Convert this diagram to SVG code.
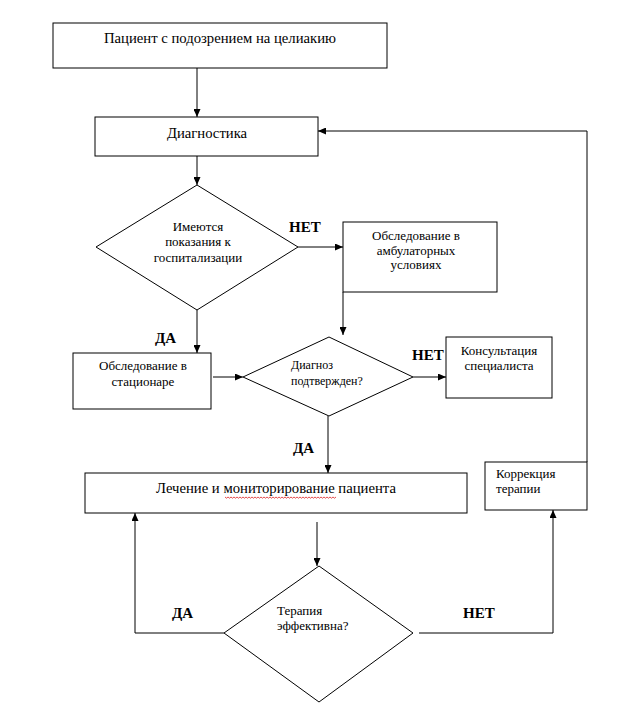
<svg xmlns="http://www.w3.org/2000/svg" width="623" height="719" viewBox="0 0 623 719">
<style>
.b{fill:#fff;stroke:#000;stroke-width:1}
.t{font-family:'Liberation Serif','DejaVu Serif',serif;font-size:13px;fill:#000}
.L{font-size:14.7px}
.c{text-anchor:middle}
.s{font-size:12px}
.lab{font-family:'Liberation Serif','DejaVu Serif',serif;font-size:15px;font-weight:bold;fill:#000}
.e{fill:none;stroke:#000;stroke-width:1}
</style>
<defs>
<marker id="a" markerUnits="userSpaceOnUse" markerWidth="9" markerHeight="7" refX="8" refY="3.5" orient="auto">
<path d="M0,0 L8,3.5 L0,7 z" fill="#000"/>
</marker>
</defs>
<rect width="623" height="719" fill="#fff"/>
<g id="connectors">
<path class="e" d="M197,68 V117" marker-end="url(#a)"/>
<path class="e" d="M197,156 V185" marker-end="url(#a)"/>
<path class="e" d="M298,247 H343" marker-end="url(#a)"/>
<path class="e" d="M197,310 V353" marker-end="url(#a)"/>
<path class="e" d="M343,292 V335" marker-end="url(#a)"/>
<path class="e" d="M213,377 H243" marker-end="url(#a)"/>
<path class="e" d="M413,377 H446" marker-end="url(#a)"/>
<path class="e" d="M328,416 V473" marker-end="url(#a)"/>
<path class="e" d="M317,522 V566" marker-end="url(#a)"/>
<path class="e" d="M224,633 H135 V513" marker-end="url(#a)"/>
<path class="e" d="M419,633 H553 V510" marker-end="url(#a)"/>
<path class="e" d="M587,462 V131 H318" marker-end="url(#a)"/>
</g>
<g id="patient">
<rect class="b" x="53" y="23" width="334" height="45"/>
<text class="t L c" x="220" y="43">Пациент с подозрением на целиакию</text>
</g>
<g id="diagnostics">
<rect class="b" x="95" y="117" width="223" height="39"/>
<text class="t L c" x="207" y="138">Диагностика</text>
</g>
<g id="hosp">
<polygon class="b" points="197,185 298,247 197,310 96,247"/>
<text class="t c" x="198" y="231">Имеются</text>
<text class="t c" x="198" y="246">показания к</text>
<text class="t c" x="198" y="262">госпитализации</text>
</g>
<g id="ambulatory">
<rect class="b" x="343" y="222" width="154" height="70"/>
<text class="t c" x="416" y="240">Обследование в</text>
<text class="t c" x="416" y="255">амбулаторных</text>
<text class="t c" x="416" y="269">условиях</text>
</g>
<g id="stationary">
<rect class="b" x="73" y="353" width="138" height="56"/>
<text class="t c" x="143" y="370">Обследование в</text>
<text class="t c" x="143" y="386">стационаре</text>
</g>
<g id="confirmed">
<polygon class="b" points="329,337 413,377 329,416 243,377"/>
<text class="t s" x="291" y="369">Диагноз</text>
<text class="t s" x="291" y="385">подтвержден?</text>
</g>
<g id="label-no1"><text class="lab" x="289" y="232">НЕТ</text></g>
<g id="label-yes1"><text class="lab" x="155" y="343">ДА</text></g>
<g id="label-no2"><text class="lab" x="412" y="360">НЕТ</text></g>
<g id="consult">
<rect class="b" x="446" y="337" width="106" height="61"/>
<text class="t c" x="499" y="355">Консультация</text>
<text class="t c" x="499" y="370">специалиста</text>
</g>
<g id="label-yes2"><text class="lab" x="293" y="453">ДА</text></g>
<g id="treatment">
<rect class="b" x="85" y="473" width="382" height="40"/>
<text class="t L c" x="276" y="493">Лечение и мониторирование пациента</text>
<path d="M225,497 l1.5,1.2 l1.5,-1.2 l1.5,1.2 l1.5,-1.2 l1.5,1.2 l1.5,-1.2 l1.5,1.2 l1.5,-1.2 l1.5,1.2 l1.5,-1.2 l1.5,1.2 l1.5,-1.2 l1.5,1.2 l1.5,-1.2 l1.5,1.2 l1.5,-1.2 l1.5,1.2 l1.5,-1.2 l1.5,1.2 l1.5,-1.2 l1.5,1.2 l1.5,-1.2 l1.5,1.2 l1.5,-1.2 l1.5,1.2 l1.5,-1.2 l1.5,1.2 l1.5,-1.2 l1.5,1.2 l1.5,-1.2 l1.5,1.2 l1.5,-1.2 l1.5,1.2 l1.5,-1.2 l1.5,1.2 l1.5,-1.2 l1.5,1.2 l1.5,-1.2 l1.5,1.2 l1.5,-1.2 l1.5,1.2 l1.5,-1.2 l1.5,1.2 l1.5,-1.2 l1.5,1.2 l1.5,-1.2 l1.5,1.2 l1.5,-1.2 l1.5,1.2 l1.5,-1.2 l1.5,1.2 l1.5,-1.2 l1.5,1.2 l1.5,-1.2 l1.5,1.2 l1.5,-1.2 l1.5,1.2 l1.5,-1.2 l1.5,1.2 l1.5,-1.2 l1.5,1.2 l1.5,-1.2 l1.5,1.2 l1.5,-1.2 l1.5,1.2 l1.5,-1.2 l1.5,1.2 l1.5,-1.2 l1.5,1.2 l1.5,-1.2 l1.5,1.2 l1.5,-1.2 l1.5,1.2 l1.5,-1.2" fill="none" stroke="#d22" stroke-width="0.8"/>
</g>
<g id="correction">
<rect class="b" x="485" y="462" width="102" height="48"/>
<text class="t" x="496" y="478">Коррекция</text>
<text class="t" x="496" y="493">терапии</text>
</g>
<g id="effective">
<polygon class="b" points="319,566 413,633 319,702 224,633"/>
<text class="t" x="277" y="615">Терапия</text>
<text class="t" x="277" y="630">эффективна?</text>
</g>
<g id="label-yes3"><text class="lab" x="172" y="618">ДА</text></g>
<g id="label-no3"><text class="lab" x="463" y="618">НЕТ</text></g>
</svg>
